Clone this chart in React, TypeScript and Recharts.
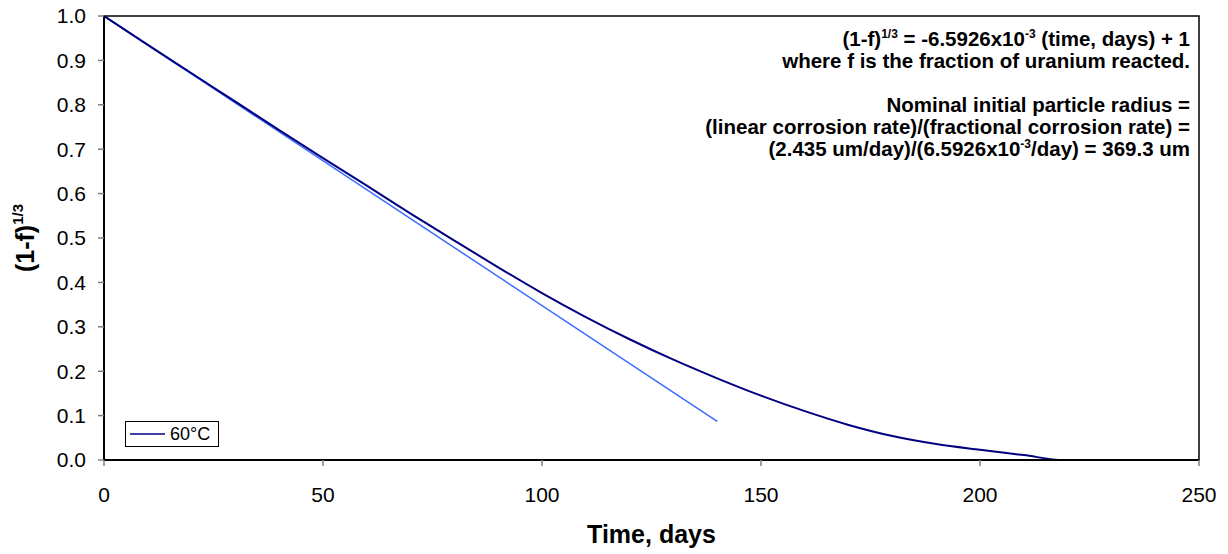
import React from 'react';
import { LineChart, Line, XAxis, YAxis, ReferenceArea, Legend, Label } from 'recharts';

const curveT = [0, 10, 20, 30, 40, 50, 60, 70, 80, 90, 100, 110, 120, 130, 140, 150, 160, 170, 180, 190, 200, 210, 219, 230, 240, 250];
const curveY = [1.0, 0.935, 0.871, 0.807, 0.743, 0.68, 0.618, 0.555, 0.494, 0.434, 0.376, 0.322, 0.272, 0.226, 0.184, 0.145, 0.110, 0.079, 0.054, 0.036, 0.023, 0.011, 0.0, 0.0, 0.0, 0.0];
const fitT = [0, 140];
const fitY = [1.0, 0.087];
const xTicks = [0, 50, 100, 150, 200, 250];
const yTicks = [0, 0.1, 0.2, 0.3, 0.4, 0.5, 0.6, 0.7, 0.8, 0.9, 1.0];
const seriesName = '60°C';

const curveData = curveT.map((t, i) => ({ t, y: curveY[i] }));
const fitData = fitT.map((t, i) => ({ t, y: fitY[i] }));

const FONT = '"Liberation Sans", Arial, Helvetica, sans-serif';

const LegendBox = (props: any) => {
  const items = (props.payload || []).filter((p: any) => p.type !== 'none');
  return (
    <div style={{ border: '1px solid #000', background: '#fff', width: 94, height: 26, display: 'flex', alignItems: 'center', boxSizing: 'border-box', fontFamily: FONT }}>
      {items.map((p: any, i: number) => (
        <div key={i} style={{ display: 'flex', alignItems: 'center' }}>
          <svg width={40} height={10} style={{ marginLeft: 4 }}>
            <line x1={0} y1={5} x2={35} y2={5} stroke={p.color} strokeWidth={1.5} />
          </svg>
          <span style={{ fontSize: 18, color: '#000' }}>{p.value}</span>
        </div>
      ))}
    </div>
  );
};

const supStyle: React.CSSProperties = { fontSize: 12, verticalAlign: 'super', lineHeight: 0 };

export default function App() {
  return (
    <div style={{ position: 'absolute', left: 0, top: 0, width: 1228, height: 554, background: '#fff', fontFamily: FONT }}>
      <LineChart width={1228} height={554} margin={{ top: 16, right: 29, bottom: 34, left: 44 }} style={{ fontFamily: FONT }}>
        <XAxis
          type="number"
          dataKey="t"
          domain={[0, 250]}
          ticks={xTicks}
          allowDataOverflow
          height={60}
          axisLine={{ stroke: '#000', strokeWidth: 2 }}
          tickLine={{ stroke: '#808080', strokeWidth: 1.5 }}
          tickSize={6}
          tickMargin={21}
          tick={{ fill: '#000', fontSize: 21, fontFamily: FONT }}
        >
          <Label
            content={(p: any) => {
              const vb = p.viewBox || {};
              return (
                <text x={vb.x + vb.width / 2} y={543} textAnchor="middle" fontSize={25} fontWeight="bold" fill="#000" fontFamily={FONT}>
                  Time, days
                </text>
              );
            }}
          />
        </XAxis>
        <YAxis
          type="number"
          domain={[0, 1]}
          ticks={yTicks}
          allowDataOverflow
          width={60}
          axisLine={{ stroke: '#000', strokeWidth: 2 }}
          tickLine={{ stroke: '#808080', strokeWidth: 1.5 }}
          tickSize={6}
          tickMargin={12}
          tick={{ fill: '#000', fontSize: 21, fontFamily: FONT }}
          tickFormatter={(v: number) => v.toFixed(1)}
        >
          <Label
            content={() => (
              <text x={0} y={0} transform="translate(34,238) rotate(-90)" textAnchor="middle" fontSize={25} fontWeight="bold" fill="#000" fontFamily={FONT}>
                <tspan>(1-f)</tspan>
                <tspan fontSize={15} dy={-11}>1/3</tspan>
              </text>
            )}
          />
        </YAxis>
        <ReferenceArea x1={0} x2={250} y1={0} y2={1} fill="none" stroke="#000" strokeWidth={1.5} ifOverflow="visible" />
        <Line data={fitData} dataKey="y" name="fit" type="linear" stroke="#3A6BFF" strokeWidth={1.5} dot={false} legendType="none" isAnimationActive={false} />
        <Line data={curveData} dataKey="y" name={seriesName} type="monotone" stroke="#000080" strokeWidth={2} dot={false} isAnimationActive={false} />
        <Legend
          layout="vertical"
          align="center"
          verticalAlign="middle"
          content={LegendBox}
          wrapperStyle={{ left: 125, top: 421, width: 94, height: 26 }}
        />
      </LineChart>
      <div style={{ position: 'absolute', right: 38, top: 28, textAlign: 'right', fontWeight: 'bold', fontSize: 20.5, lineHeight: '22px', color: '#000', whiteSpace: 'nowrap' }}>
        <div>(1-f)<span style={supStyle}>1/3</span> = -6.5926x10<span style={supStyle}>-3</span> (time, days) + 1</div>
        <div>where f is the fraction of uranium reacted.</div>
        <div>&nbsp;</div>
        <div>Nominal initial particle radius =</div>
        <div>(linear corrosion rate)/(fractional corrosion rate) =</div>
        <div>(2.435 um/day)/(6.5926x10<span style={supStyle}>-3</span>/day) = 369.3 um</div>
      </div>
    </div>
  );
}
